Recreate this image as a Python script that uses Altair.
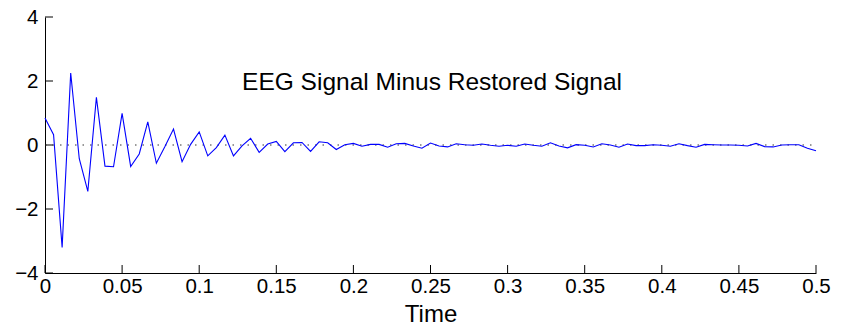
import altair as alt
import pandas as pd

# Residual between EEG signal and restored signal, sampled at 180 Hz
fs = 180
residual = [
    0.84, 0.32, -3.2, 2.25, -0.43, -1.45, 1.49, -0.66, -0.68, 0.99,
    -0.67, -0.28, 0.72, -0.57, -0.05, 0.5, -0.52, 0.02, 0.41, -0.34,
    -0.08, 0.31, -0.34, -0.03, 0.21, -0.23, 0.03, 0.11, -0.21, 0.07,
    0.08, -0.20, 0.10, 0.07, -0.14, 0.01, 0.05, -0.04, 0.02, 0.02,
    -0.07, 0.04, 0.05, -0.03, -0.10, 0.06, -0.03, -0.06, 0.04, 0.01,
    -0.01, 0.03, -0.01, -0.04, -0.01, -0.04, 0.03, -0.01, -0.04, 0.07,
    -0.03, -0.09, 0.01, -0.01, -0.06, 0.04, 0.00, -0.07, 0.03, -0.02,
    -0.02, 0.01, -0.01, -0.04, 0.04, -0.02, -0.07, 0.02, 0.01, 0.00,
    0.00, -0.01, -0.03, 0.05, -0.05, -0.06, 0.00, 0.01, 0.01, -0.10,
    -0.18,
]
time = [i / fs for i in range(len(residual))]

x_ticks = [0, 0.05, 0.1, 0.15, 0.2, 0.25, 0.3, 0.35, 0.4, 0.45, 0.5]
y_ticks = [-4, -2, 0, 2, 4]

title_text = ["EEG Signal Minus Restored Signal"]
title_pos_x = [0.251]
title_pos_y = [1.93]

W, H = 771, 256
FONT = "Liberation Sans"

df = pd.DataFrame({"Time": time, "value": residual})
xt = pd.DataFrame({"t": x_ticks})
yt = pd.DataFrame({"v": y_ticks})
tt = pd.DataFrame({"label": title_text, "x": title_pos_x, "y": title_pos_y})

xscale = alt.Scale(domain=[0, 0.5], nice=False, zero=False)
yscale = alt.Scale(domain=[-4, 4], nice=False, zero=False)

x_axis = alt.Axis(
    values=x_ticks, format="~g", ticks=False, grid=False,
    labelFont=FONT, labelFontSize=20.5, labelColor="black", labelPadding=3,
    title="Time", titleFont=FONT, titleFontSize=24, titleFontWeight="normal",
    titleColor="black", titlePadding=6,
    domainColor="black", domainWidth=1, labelFlush=False,
)
y_axis = alt.Axis(
    values=y_ticks, format="~g", ticks=False, grid=False,
    labelFont=FONT, labelFontSize=20.5, labelColor="black", labelPadding=7,
    title=None, domainColor="black", domainWidth=1, labelFlush=False,
)

zero_line = alt.Chart(pd.DataFrame({"v": [0]})).mark_rule(
    color="#333333", strokeDash=[1.5, 6], strokeWidth=1
).encode(
    y=alt.Y("v:Q", scale=yscale, axis=y_axis),
    x=alt.value(0), x2=alt.value(W),
)

line = alt.Chart(df).mark_line(color="#0000ff", strokeWidth=1.1).encode(
    x=alt.X("Time:Q", scale=xscale, axis=x_axis),
    y=alt.Y("value:Q", scale=yscale, axis=y_axis),
)

x_tick_marks = alt.Chart(xt).mark_rule(color="black", strokeWidth=1).encode(
    x=alt.X("t:Q", scale=xscale),
    y=alt.value(H), y2=alt.value(H - 8),
)
y_tick_marks = alt.Chart(yt).mark_rule(color="black", strokeWidth=1).encode(
    y=alt.Y("v:Q", scale=yscale),
    x=alt.value(0), x2=alt.value(8),
)

label = alt.Chart(tt).mark_text(
    font=FONT, fontSize=24.5, color="black", align="center", baseline="middle"
).encode(
    x=alt.X("x:Q", scale=xscale),
    y=alt.Y("y:Q", scale=yscale),
    text="label:N",
)

chart = alt.layer(zero_line, line, x_tick_marks, y_tick_marks, label).properties(
    width=W, height=H,
    autosize=alt.AutoSizeParams(type="none"),
    padding={"left": 45, "top": 17, "right": 29, "bottom": 54},
    background="white",
).configure_view(stroke=None)

chart.save("out.html", embed_options={"renderer": "svg", "actions": False})
